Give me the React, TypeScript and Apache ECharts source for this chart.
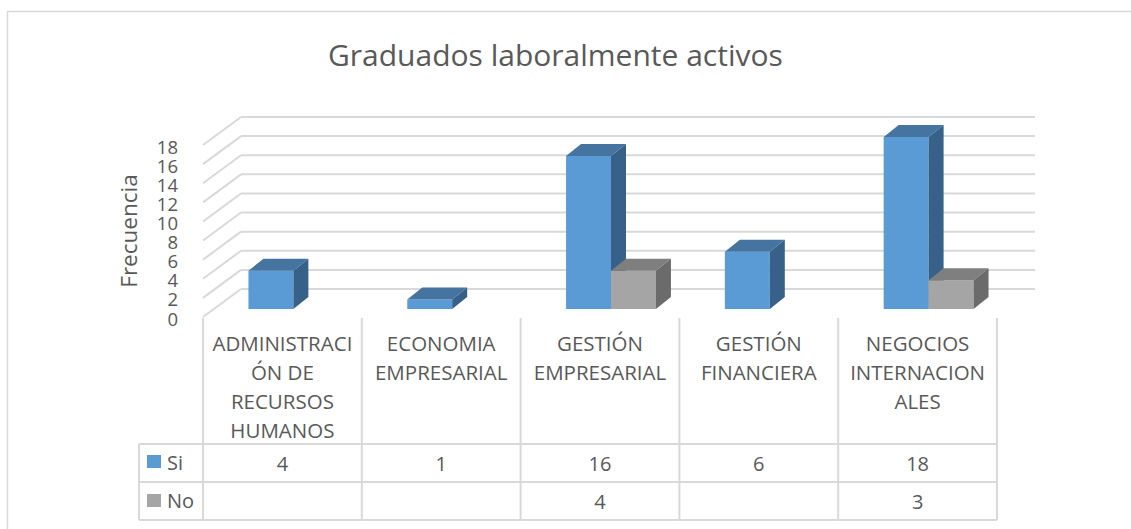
import React, { useEffect, useRef } from "react";
import * as echarts from "echarts";

const title = "Graduados laboralmente activos";
const categories = [
  "ADMINISTRACI\nÓN DE\nRECURSOS\nHUMANOS",
  "ECONOMIA\nEMPRESARIAL",
  "GESTIÓN\nEMPRESARIAL",
  "GESTIÓN\nFINANCIERA",
  "NEGOCIOS\nINTERNACION\nALES",
];
const seriesNames = ["Si", "No"];
const siValues: (number | null)[] = [4, 1, 16, 6, 18];
const noValues: (number | null)[] = [null, null, 4, null, 3];
const yTicks = [0, 2, 4, 6, 8, 10, 12, 14, 16, 18];
const yAxisName = "Frecuencia";

const FONT = "'Open Sans', 'Noto Sans', sans-serif";
const TXT = "#595959";
const LINE = "#d9d9d9";
const BACK_DX = 38;
const BACK_DY = -28;
const BAR_DX = 11;
const BAR_DY = -8;
const DEPTH_DX = 15;
const DEPTH_DY = -12;
const BAR_FRAC = 0.283;

const colors = {
  Si: { front: "#5b9bd5", top: "#44749f", side: "#386189" },
  No: { front: "#a5a5a5", top: "#7f7f7f", side: "#6b6b6b" },
};

const ROW_TOP = 318;
const ROW_SI = 444;
const ROW_NO = 482;
const ROW_END = 520;

function barRender(kind: "Si" | "No") {
  return (params: any, api: any) => {
    const idx = api.value(0);
    const val = api.value(1);
    const base = api.coord([idx, 0]);
    const top = api.coord([idx, val]);
    const band = api.size([1, 0])[0];
    const w = band * BAR_FRAC;
    const x0 = base[0] + (kind === "Si" ? -w : 0) + BAR_DX;
    const x1 = x0 + w;
    const y0 = base[1] + BAR_DY;
    const yt = top[1] + BAR_DY;
    const c = colors[kind];
    return {
      type: "group",
      children: [
        {
          type: "rect",
          shape: { x: x0, y: yt, width: w, height: y0 - yt },
          style: { fill: c.front },
        },
        {
          type: "polygon",
          shape: {
            points: [
              [x0, yt],
              [x1, yt],
              [x1 + DEPTH_DX, yt + DEPTH_DY],
              [x0 + DEPTH_DX, yt + DEPTH_DY],
            ],
          },
          style: { fill: c.top },
        },
        {
          type: "polygon",
          shape: {
            points: [
              [x1, yt],
              [x1 + DEPTH_DX, yt + DEPTH_DY],
              [x1 + DEPTH_DX, y0 + DEPTH_DY],
              [x1, y0],
            ],
          },
          style: { fill: c.side },
        },
      ],
    };
  };
}

export default function App() {
  const ref = useRef<HTMLDivElement>(null);
  useEffect(() => {
    document.body.style.margin = "0";
    if (!ref.current) return;
    const chart = echarts.init(ref.current, null, { renderer: "svg" });
    const option: any = {
      animation: false,
      backgroundColor: "#ffffff",
      title: {
        text: title,
        left: 323,
        top: 34,
        textStyle: { fontFamily: FONT, fontSize: 30, fontWeight: "normal", color: TXT },
      },
      grid: { left: 203, right: 134, top: 145, bottom: 212 },
      xAxis: {
        type: "category",
        data: categories,
        axisLine: { show: false },
        axisTick: { show: false },
        splitLine: { show: false },
        axisLabel: {
          interval: 0,
          margin: 11,
          fontFamily: FONT,
          fontSize: 20.5,
          lineHeight: 29,
          color: TXT,
          verticalAlign: "top",
        },
      },
      yAxis: {
        type: "value",
        min: 0,
        max: 18,
        interval: 2,
        name: yAxisName,
        nameLocation: "middle",
        nameRotate: 90,
        nameGap: 63,
        nameTextStyle: { fontFamily: FONT, fontSize: 22.5, color: TXT },
        axisLine: { show: false },
        axisTick: { show: false },
        splitLine: { show: false },
        axisLabel: { show: false },
      },
      graphic: [
        {
          type: "polyline",
          shape: { points: [[7.5, 540], [7.5, 11.5], [1140, 11.5]] },
          style: { stroke: LINE, lineWidth: 1.5, fill: null },
        },
        { type: "line", shape: { x1: 139, y1: ROW_SI, x2: 203, y2: ROW_SI }, style: { stroke: LINE, lineWidth: 2 } },
        { type: "line", shape: { x1: 139, y1: ROW_NO, x2: 203, y2: ROW_NO }, style: { stroke: LINE, lineWidth: 2 } },
        { type: "line", shape: { x1: 139, y1: ROW_END, x2: 203, y2: ROW_END }, style: { stroke: LINE, lineWidth: 2 } },
        { type: "line", shape: { x1: 139, y1: ROW_SI, x2: 139, y2: ROW_END }, style: { stroke: LINE, lineWidth: 2 } },
        { type: "rect", shape: { x: 147, y: 455, width: 14, height: 13 }, style: { fill: colors.Si.front } },
        { type: "text", x: 167, y: 462, style: { text: seriesNames[0], fontFamily: FONT, fontSize: 20, fill: TXT, verticalAlign: "middle" } },
        { type: "rect", shape: { x: 147, y: 494, width: 14, height: 13 }, style: { fill: colors.No.front } },
        { type: "text", x: 167, y: 500, style: { text: seriesNames[1], fontFamily: FONT, fontSize: 20, fill: TXT, verticalAlign: "middle" } },
      ],
      series: [
        {
          type: "custom",
          name: "walls",
          clip: false,
          silent: true,
          z: 1,
          data: yTicks.map((v) => [0, v]),
          renderItem: (params: any, api: any) => {
            const cs = params.coordSys;
            const v = api.value(1);
            const y = api.coord([0, v])[1];
            return {
              type: "group",
              children: [
                {
                  type: "line",
                  shape: { x1: cs.x, y1: y, x2: cs.x + BACK_DX, y2: y + BACK_DY },
                  style: { stroke: LINE, lineWidth: 2 },
                },
                {
                  type: "line",
                  shape: { x1: cs.x + BACK_DX, y1: y + BACK_DY, x2: cs.x + cs.width + BACK_DX, y2: y + BACK_DY },
                  style: { stroke: LINE, lineWidth: 2 },
                },
                {
                  type: "text",
                  x: cs.x - 25,
                  y: y + 1,
                  style: {
                    text: String(v),
                    fontFamily: FONT,
                    fontSize: 18.5,
                    lineHeight: 15,
                    fill: TXT,
                    align: "right",
                    verticalAlign: "middle",
                  },
                },
              ],
            };
          },
        },
        {
          type: "custom",
          name: seriesNames[0],
          clip: false,
          z: 3,
          data: siValues.map((v, i) => (v == null ? null : [i, v])).filter((d) => d !== null),
          renderItem: barRender("Si"),
        },
        {
          type: "custom",
          name: seriesNames[1],
          clip: false,
          z: 4,
          data: noValues.map((v, i) => (v == null ? null : [i, v])).filter((d) => d !== null),
          renderItem: barRender("No"),
        },
        {
          type: "custom",
          name: "table",
          clip: false,
          silent: true,
          z: 5,
          data: categories.map((_, i) => [i, 0]),
          renderItem: (params: any, api: any) => {
            const i = api.value(0);
            const cx = api.coord([i, 0])[0];
            const half = api.size([1, 0])[0] / 2;
            const L = cx - half;
            const R = cx + half;
            const children: any[] = [
              { type: "line", shape: { x1: L, y1: ROW_TOP, x2: L, y2: ROW_END }, style: { stroke: LINE, lineWidth: 2 } },
              { type: "line", shape: { x1: L, y1: ROW_SI, x2: R, y2: ROW_SI }, style: { stroke: LINE, lineWidth: 2 } },
              { type: "line", shape: { x1: L, y1: ROW_NO, x2: R, y2: ROW_NO }, style: { stroke: LINE, lineWidth: 2 } },
              { type: "line", shape: { x1: L, y1: ROW_END, x2: R, y2: ROW_END }, style: { stroke: LINE, lineWidth: 2 } },
            ];
            if (i === categories.length - 1) {
              children.push({ type: "line", shape: { x1: R, y1: ROW_TOP, x2: R, y2: ROW_END }, style: { stroke: LINE, lineWidth: 2 } });
            }
            const si = siValues[i];
            const no = noValues[i];
            if (si != null) {
              children.push({
                type: "text",
                x: cx,
                y: (ROW_SI + ROW_NO) / 2,
                style: { text: String(si), fontFamily: FONT, fontSize: 20, fill: TXT, align: "center", verticalAlign: "middle" },
              });
            }
            if (no != null) {
              children.push({
                type: "text",
                x: cx,
                y: (ROW_NO + ROW_END) / 2,
                style: { text: String(no), fontFamily: FONT, fontSize: 20, fill: TXT, align: "center", verticalAlign: "middle" },
              });
            }
            return { type: "group", children };
          },
        },
      ],
    };
    chart.setOption(option);
    return () => chart.dispose();
  }, []);
  return <div ref={ref} style={{ width: 1131, height: 529 }} />;
}
